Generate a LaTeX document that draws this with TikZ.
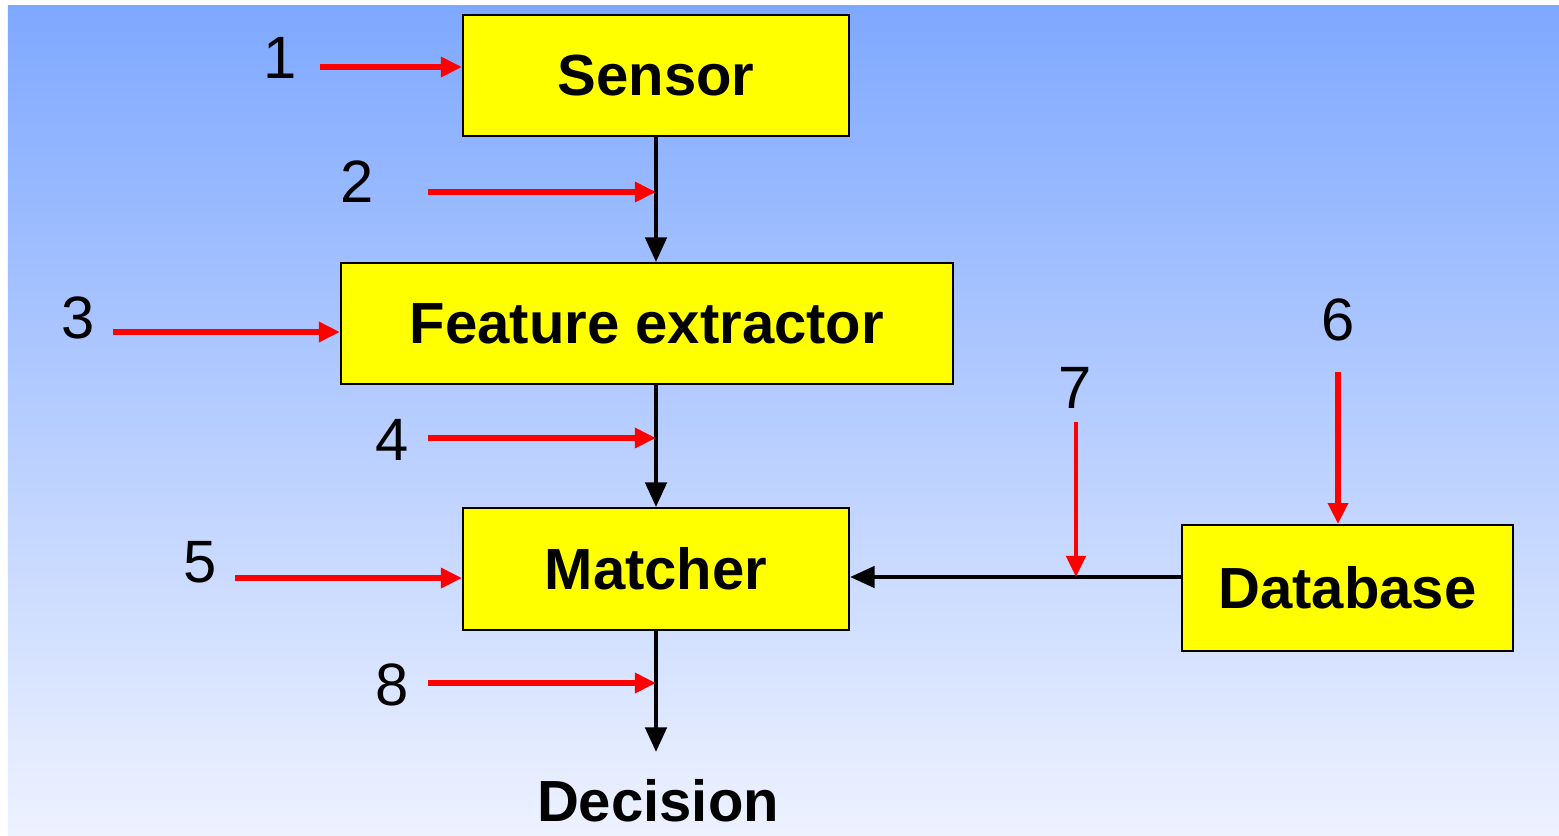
\documentclass[tikz,border=0pt]{standalone}
\usepackage{fontspec}
\setmainfont{Liberation Sans}
\usetikzlibrary{arrows.meta,positioning}

\definecolor{bgtop}{RGB}{126,168,255}
\definecolor{bgbottom}{RGB}{238,242,255}
\definecolor{boxyellow}{RGB}{255,255,0}
\definecolor{attackred}{RGB}{255,0,0}

\begin{document}
\begin{tikzpicture}[
    x=0.01cm, y=-0.01cm,
    block/.style={rectangle, draw=black, line width=0.5pt, fill=boxyellow,
      minimum width=3.86cm, minimum height=1.21cm,
      font=\fontsize{16.5}{19}\selectfont\bfseries},
    num/.style={inner sep=0pt, font=\fontsize{17}{20}\selectfont},
    flow/.style={draw=black, line width=1.2pt, -{Triangle[length=7pt,width=6pt]}},
    attack/.style={draw=attackred, line width=1.6pt, -{Triangle[length=6pt,width=5.5pt]}}
  ]

  \useasboundingbox (0,0) rectangle (1559,835);
  \shade[top color=bgtop, bottom color=bgbottom] (8,5) rectangle (1559,835);

  % Blocks
  \node[block] (sensor) at (656,75.5) {Sensor};
  \node[block, minimum width=6.12cm] (extractor) at (647,323.5) {Feature extractor};
  \node[block, minimum height=1.22cm] (matcher) at (656,569) {Matcher};
  \node[block, minimum width=3.31cm, minimum height=1.26cm] (database) at (1347.5,588) {Database};
  \node[anchor=north, inner sep=0.27cm, font=\fontsize{16.5}{19}\selectfont\bfseries] (decision) at (658,752) {Decision};

  % Main flow
  \draw[flow] (sensor.south) -- (sensor.south |- extractor.north);
  \draw[flow] (matcher.north |- extractor.south) -- (matcher.north);
  \draw[flow] (matcher.south) -- (matcher.south |- decision.north);

  \coordinate (j7) at (1076,577);
  \draw[flow] (j7 -| database.west) -- (j7 -| matcher.east);

  % Attack points
  \node[num] (n1) at (280,58) {1};
  \node[num] (n2) at (357,182) {2};
  \node[num] (n3) at (78,318) {3};
  \node[num] (n4) at (392,440) {4};
  \node[num] (n5) at (200,562) {5};
  \node[num] (n6) at (1338,320) {6};
  \node[num] (n7) at (1075,388) {7};
  \node[num] (n8) at (392,685) {8};

  \coordinate (t1) at (320,67);
  \coordinate (t2) at (428,192);
  \coordinate (t3) at (113,332);
  \coordinate (t4) at (428,438);
  \coordinate (t5) at (235,578);
  \coordinate (t6) at (1338,372);
  \coordinate (t7) at (1076,422);
  \coordinate (t8) at (428,683);

  \draw[attack] (t1) -- (t1 -| sensor.west);
  \draw[attack] (t2) -- (t2 -| sensor.south);
  \draw[attack] (t3) -- (t3 -| extractor.west);
  \draw[attack] (t4) -- (t4 -| matcher.north);
  \draw[attack] (t5) -- (t5 -| matcher.west);
  \draw[attack] (t6) -- (t6 |- database.north);
  \draw[attack, line width=1.1pt] (t7) -- (j7);
  \draw[attack] (t8) -- (t8 -| matcher.south);

\end{tikzpicture}
\end{document}
